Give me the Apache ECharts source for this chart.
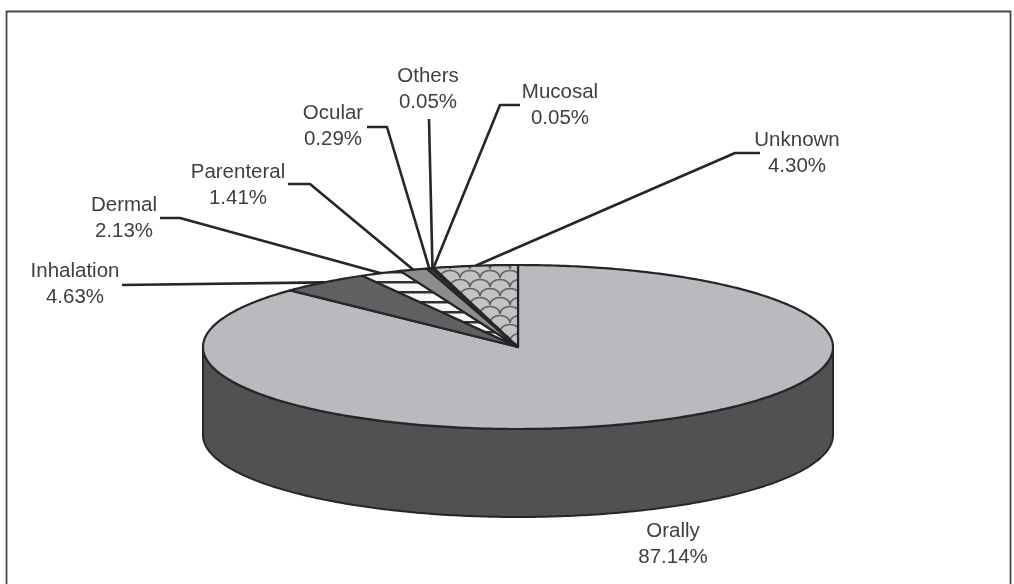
<!DOCTYPE html>
<html>
<head>
<meta charset="utf-8">
<style>html,body{margin:0;padding:0;background:#fff}#chart{width:1014px;height:584px}</style>
<script src="https://cdn.jsdelivr.net/npm/echarts@6/dist/echarts.min.js"></script>
</head>
<body>
<div id="chart"></div>
<script>
// Routes of exposure, percent of cases, clockwise from twelve o'clock.
var routes = ['Orally', 'Inhalation', 'Dermal', 'Parenteral', 'Ocular', 'Others', 'Mucosal', 'Unknown'];
var shares = [87.14, 4.63, 2.13, 1.41, 0.29, 0.05, 0.05, 4.30];

// Disc placement: the polar system draws a circle, squashed vertically into a tilted disc.
var CENTER = [518, 347], RADIUS = 315, SQUASH = 82 / 315, DEPTH = 88;
var INK = '#262628', TEXT = '#404042';

// Label centres and leader bends, by route.
var labelCentres = [[673, 544], [75, 284], [124, 218], [238, 185], [333, 126], [428, 89], [560, 105], [797, 153]];
var leaderBends = [
  null,
  [[122, 285]],
  [[160, 218], [180, 218]],
  [[288, 184], [310, 184]],
  [[367, 127], [387, 127]],
  [[429, 119]],
  [[520, 105], [500, 105]],
  [[760, 153], [735, 153]]
];

function tile(w, h, draw) {
  var c = document.createElement('canvas');
  c.width = w; c.height = h;
  draw(c.getContext('2d'));
  return { image: c, repeat: 'repeat' };
}

// Horizontal banding for the dermal slice.
var stripes = tile(4, 10, function (g) {
  g.fillStyle = '#f8f8f8'; g.fillRect(0, 0, 4, 10);
  g.fillStyle = '#303032'; g.fillRect(0, 1, 4, 2.5);
});

// Fish-scale texture for the unknown slice: staggered rows of rounded humps.
var scales = tile(20, 18, function (g) {
  g.fillStyle = '#c2c3c5'; g.fillRect(0, 0, 20, 18);
  g.strokeStyle = '#5f6064'; g.lineWidth = 1.5;
  for (var row = -1; row <= 2; row++) {
    for (var col = -1; col <= 2; col++) {
      var x = col * 20 + (row % 2 ? 10 : 0) + 10, y = row * 9 + 8;
      g.beginPath();
      g.ellipse(x, y, 10, 7.5, 0, Math.PI, 0);
      g.stroke();
    }
  }
});

var fills = ['#b9babd', '#5f6062', stripes, '#8c8d8f', '#3a3a3c', '#2a2a2c', '#2a2a2c', scales];
var wallFill = '#505153';

var rows = [], running = 0;
shares.forEach(function (s, i) {
  rows.push({ name: routes[i], value: [1, running, running + s] });
  running += s;
});

function rimPoint(api, v) {
  var p = api.coord([1, v]);
  return [p[0], CENTER[1] + (p[1] - CENTER[1]) * SQUASH];
}
function rimRun(api, from, to) {
  var pts = [], n = Math.max(1, Math.ceil((to - from) / 0.2));
  for (var k = 0; k <= n; k++) pts.push(rimPoint(api, from + (to - from) * k / n));
  return pts;
}

function renderSlice(params, api) {
  var from = api.value(1), to = api.value(2), children = [];
  // The rim wall is visible along the front half of the disc only.
  var wFrom = Math.max(from, 25), wTo = Math.min(to, 75);
  if (wTo > wFrom) {
    var top = rimRun(api, wFrom, wTo);
    var low = top.slice().reverse().map(function (p) { return [p[0], p[1] + DEPTH]; });
    children.push({
      type: 'polygon', shape: { points: top.concat(low) },
      style: { fill: wallFill, stroke: INK, lineWidth: 2, lineJoin: 'round' }
    });
  }
  children.push({
    type: 'polygon', shape: { points: [CENTER].concat(rimRun(api, from, to)) },
    style: { fill: fills[params.dataIndex], stroke: INK, lineWidth: 2.2, lineJoin: 'round' }
  });
  return { type: 'group', children: children };
}

function renderNote(params, api) {
  var i = params.dataIndex, children = [];
  if (leaderBends[i]) {
    var end = rimPoint(api, (api.value(1) + api.value(2)) / 2);
    children.push({
      type: 'polyline', shape: { points: leaderBends[i].concat([end]) },
      style: { fill: 'none', stroke: INK, lineWidth: 2.6, lineJoin: 'round' }
    });
  }
  children.push({
    type: 'text',
    style: {
      text: routes[i] + '\n' + shares[i].toFixed(2) + '%',
      x: labelCentres[i][0], y: labelCentres[i][1],
      align: 'center', verticalAlign: 'middle', lineHeight: 26,
      font: '20.5px "Liberation Sans", Arial, sans-serif', fill: TEXT
    }
  });
  return { type: 'group', children: children };
}

var chart = echarts.init(document.getElementById('chart'), null, { renderer: 'canvas' });
chart.setOption({
  animation: false,
  backgroundColor: '#ffffff',
  graphic: [{
    type: 'rect', silent: true, z: -1,
    shape: { x: 6.5, y: 11.5, width: 1004, height: 590 },
    style: { fill: '#ffffff', stroke: '#48484a', lineWidth: 1.8 }
  }],
  polar: { center: CENTER, radius: RADIUS },
  angleAxis: { type: 'value', min: 0, max: 100, startAngle: 90, clockwise: true, show: false },
  radiusAxis: { type: 'value', min: 0, max: 1, show: false },
  series: [
    { type: 'custom', coordinateSystem: 'polar', silent: true, clip: false, encode: { radius: 0, angle: 1 }, renderItem: renderSlice, data: rows },
    { type: 'custom', coordinateSystem: 'polar', silent: true, clip: false, encode: { radius: 0, angle: 1 }, renderItem: renderNote, data: rows, z: 3 }
  ]
});
</script>
</body>
</html>
